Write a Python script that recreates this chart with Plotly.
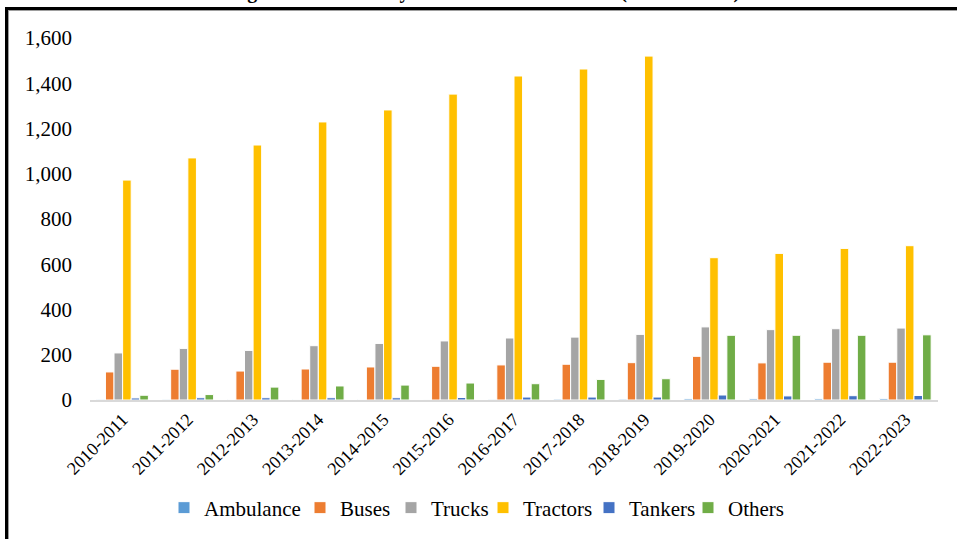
import plotly.graph_objects as go

years = ["2010-2011", "2011-2012", "2012-2013", "2013-2014", "2014-2015", "2015-2016",
         "2016-2017", "2017-2018", "2018-2019", "2019-2020", "2020-2021", "2021-2022", "2022-2023"]
ambulance = [3, 3, 2, 2, 2, 2, 3, 4, 4, 6, 6, 6, 7]
buses = [124, 136, 128, 137, 146, 149, 155, 158, 165, 193, 164, 167, 167]
trucks = [208, 228, 219, 240, 250, 261, 274, 278, 290, 323, 311, 315, 318]
tractors = [972, 1070, 1127, 1229, 1282, 1352, 1432, 1463, 1520, 629, 648, 670, 682]
tankers = [9, 10, 10, 10, 10, 11, 13, 13, 13, 22, 18, 19, 20]
others = [21, 24, 57, 62, 66, 75, 72, 91, 94, 286, 286, 286, 288]

series = [
    ("Ambulance", ambulance, "#5B9BD5"),
    ("Buses", buses, "#ED7D31"),
    ("Trucks", trucks, "#A5A5A5"),
    ("Tractors", tractors, "#FFC000"),
    ("Tankers", tankers, "#4472C4"),
    ("Others", others, "#70AD47"),
]

FONT = "Liberation Serif, Times New Roman, serif"
W, H = 957, 539
L, R, T, B = 90, 19, 38, 139
PW, PH = W - L - R, H - T - B

def px_x(px):
    return (px - L) / PW

def px_y(py):
    return (H - B - py) / PH

# legend square left edges in the reference
legend_x = [190, 326, 417, 509, 615, 714]

fig = go.Figure()
for i, (name, vals, col) in enumerate(series):
    lg = "legend" if i == 0 else f"legend{i+1}"
    fig.add_trace(go.Bar(name=name, x=years, y=vals, marker_color=col,
                         marker_line_color="white", marker_line_width=1,
                         legend=lg))

layout_legends = {}
for i, lx in enumerate(legend_x):
    key = "legend" if i == 0 else f"legend{i+1}"
    layout_legends[key] = dict(
        x=px_x(lx - 26), y=px_y(508), xanchor="left", yanchor="middle",
        orientation="h", font=dict(family=FONT, size=21, color="black"),
        bgcolor="rgba(0,0,0,0)", itemwidth=30, tracegroupgap=0,
    )

fig.update_layout(
    width=W, height=H,
    margin=dict(l=L, r=R, t=T, b=B, pad=0, autoexpand=False),
    paper_bgcolor="white", plot_bgcolor="white",
    barmode="group", bargap=0.21, bargroupgap=0,
    font=dict(family=FONT, color="black"),
    showlegend=True,
    **layout_legends,
)
fig.update_xaxes(
    showgrid=False, showline=True, linecolor="#D9D9D9", linewidth=2,
    tickangle=-45, tickfont=dict(family=FONT, size=18, color="black"),
    ticks="", zeroline=False,
)
fig.update_yaxes(
    range=[0, 1600], dtick=200, tickformat=",", showgrid=False, zeroline=False,
    showline=False, ticks="", tickfont=dict(family=FONT, size=21, color="black"),
    ticklabelstandoff=17,
)

# partially visible title (cropped at the top in the reference)
fig.add_annotation(
    text="<b>Registrations Data by Vehicle Classes in India (2010 to 2023)</b>",
    xref="paper", yref="paper", x=px_x(222), y=px_y(5), xanchor="left", yanchor="bottom",
    showarrow=False, font=dict(family=FONT, size=20, color="black"),
)

# frame lines
fig.add_shape(type="line", xref="paper", yref="paper", x0=px_x(6.5), x1=px_x(6.5),
              y0=px_y(8), y1=px_y(545), line=dict(color="black", width=3))
fig.add_shape(type="line", xref="paper", yref="paper", x0=px_x(8.5), x1=px_x(8.5),
              y0=px_y(10), y1=px_y(545), line=dict(color="#9E9E9E", width=1))
fig.add_shape(type="line", xref="paper", yref="paper", x0=px_x(5), x1=px_x(960),
              y0=px_y(8.5), y1=px_y(8.5), line=dict(color="black", width=3))
fig.add_shape(type="line", xref="paper", yref="paper", x0=px_x(8), x1=px_x(960),
              y0=px_y(10.5), y1=px_y(10.5), line=dict(color="#9E9E9E", width=1))

fig.write_html("out.html")
